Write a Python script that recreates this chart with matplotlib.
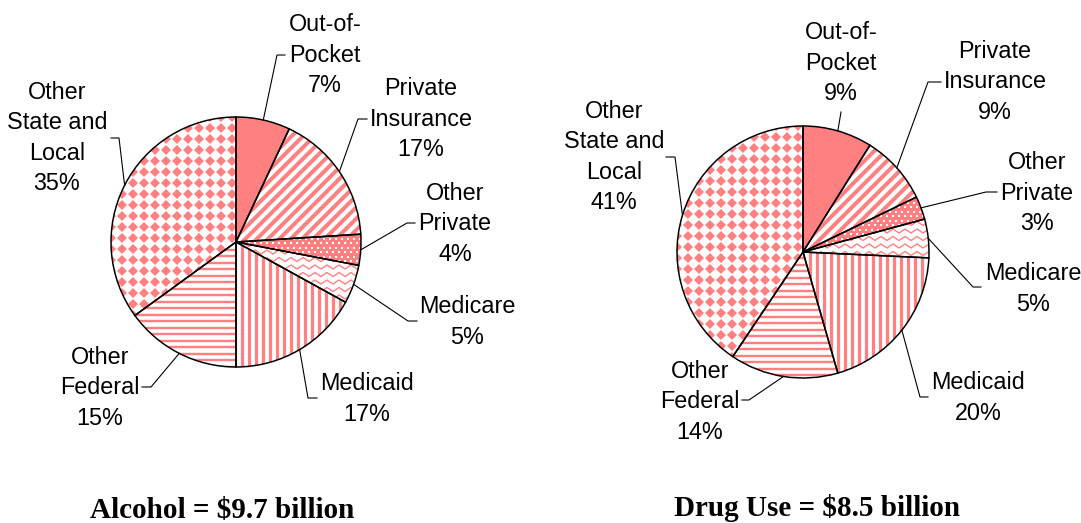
import numpy as np
import matplotlib
matplotlib.use("Agg")
import matplotlib.pyplot as plt
from matplotlib.patches import Wedge
from matplotlib.collections import LineCollection

plt.rcParams.update({
    "font.family": ["Liberation Sans", "DejaVu Sans"],
    "font.size": 16.8,
})

# ── data ─────────────────────────────────────────────────────────────
SOURCES = ["Out-of-Pocket", "Private Insurance", "Other Private", "Medicare",
           "Medicaid", "Other Federal", "Other State and Local"]
SOURCE_LABELS = ["Out-of-\nPocket", "Private\nInsurance", "Other\nPrivate",
                 "Medicare", "Medicaid", "Other\nFederal", "Other\nState and\nLocal"]
ALCOHOL_PCT = [7, 17, 4, 5, 17, 15, 35]
DRUG_PCT = [9, 9, 3, 5, 20, 14, 41]
ALCOHOL_TITLE = "Alcohol = $9.7 billion"
DRUG_TITLE = "Drug Use = $8.5 billion"

SALMON = "#FF8080"
PX = 0.72  # points per pixel at 100 dpi


def stripes(ax, wedge, cx, cy, r, angle, period, width):
    a = np.deg2rad(angle)
    u = np.array([np.cos(a), np.sin(a)])
    n = np.array([-np.sin(a), np.cos(a)])
    L = 1.5 * r
    segs = []
    for k in np.arange(-1.5 * r, 1.5 * r, period):
        p = np.array([cx, cy]) + k * n
        segs.append([p - L * u, p + L * u])
    lc = LineCollection(segs, colors=SALMON, linewidths=width * PX, zorder=2)
    ax.add_collection(lc)
    lc.set_clip_path(wedge)


def zigzag(ax, wedge, cx, cy, r):
    xs = np.arange(cx - r - 12, cx + r + 12, 6.0)
    segs = []
    for y0 in np.arange(cy - r, cy + r, 7.5):
        ys = y0 + np.where(np.arange(len(xs)) % 2 == 0, -2.0, 2.0)
        segs.append(np.column_stack([xs, ys]))
    lc = LineCollection(segs, colors=SALMON, linewidths=1.4 * PX, zorder=2)
    ax.add_collection(lc)
    lc.set_clip_path(wedge)


def dotted(ax, wedge, cx, cy, r):
    # salmon ground with staggered small white dashes
    ax.add_patch(Wedge((cx, cy), r, wedge.theta1, wedge.theta2,
                       facecolor=SALMON, edgecolor="none", zorder=1.5))
    pts = []
    for i, y0 in enumerate(np.arange(cy - r, cy + r, 4.5)):
        off = 3.0 if i % 2 else 0.0
        for x0 in np.arange(cx - r + off, cx + r, 6.0):
            pts.append((x0, y0))
    pts = np.array(pts)
    ln, = ax.plot(pts[:, 0], pts[:, 1], ls="none", marker="s",
                  ms=2.2 * PX, mew=0, color="white", zorder=2)
    ln.set_clip_path(wedge)


def diamonds(ax, wedge, cx, cy, r):
    g = np.arange(-r - 11, r + 11, 11.0)
    gx, gy = np.meshgrid(cx + g, cy + g)
    ln, = ax.plot(gx.ravel(), gy.ravel(), ls="none", marker="D",
                  ms=7.4 * PX, mew=0, color=SALMON, zorder=2)
    ln.set_clip_path(wedge)


def draw_pie(ax, values, center, radius, layout, title, title_xy):
    cx, cy = center
    wedges, _ = ax.pie(values, center=center, radius=radius, startangle=-90,
                       counterclock=True, colors=["white"] * len(values),
                       wedgeprops=dict(edgecolor="none", linewidth=0))
    # fills
    wedges[0].set_facecolor(SALMON)
    stripes(ax, wedges[1], cx, cy, radius, -45, 8.0, 4.0)
    dotted(ax, wedges[2], cx, cy, radius)
    zigzag(ax, wedges[3], cx, cy, radius)
    stripes(ax, wedges[4], cx, cy, radius, 90, 7.0, 3.2)
    stripes(ax, wedges[5], cx, cy, radius, 0, 6.5, 2.4)
    diamonds(ax, wedges[6], cx, cy, radius)
    # outlines on top
    outline, _ = ax.pie(values, center=center, radius=radius, startangle=-90,
                        counterclock=True,
                        wedgeprops=dict(facecolor="none", edgecolor="black",
                                        linewidth=1.5 * PX))
    for w in outline:
        w.set_zorder(3)

    for w, lab, v, (txy, elbow, end) in zip(wedges, SOURCE_LABELS, values, layout):
        mid = np.deg2rad((w.theta1 + w.theta2) / 2)
        start = (cx + radius * np.cos(mid), cy + radius * np.sin(mid))
        ax.plot([start[0], elbow[0], end[0]], [start[1], elbow[1], end[1]],
                color="black", lw=0.8, zorder=4)
        ax.text(txy[0], txy[1], f"{lab}\n{v}%", ha="center", va="center",
                linespacing=1.41, zorder=5)

    ax.text(title_xy[0], title_xy[1], title, ha="center", va="center",
            family=["Liberation Serif", "DejaVu Serif"], fontweight="bold",
            fontsize=21)


fig = plt.figure(figsize=(10.81, 5.23), dpi=100)
ax = fig.add_axes([0, 0, 1, 1])

# label block centre, leader elbow, leader end  (pixel layout, y downwards)
alcohol_layout = [
    ((325, 55), (277, 55), (285, 55)),
    ((421, 119), (358, 119), (367, 119)),
    ((455, 224), (407, 223), (415, 223)),
    ((467, 322), (408, 321), (417, 321)),
    ((367, 399), (308, 398), (317, 398)),
    ((100, 388), (151, 387), (142, 387)),
    ((57, 138), (119, 138), (111, 138)),
]
drug_layout = [
    ((841, 63), (841, 112), (841, 112)),
    ((995, 82), (928, 82), (941, 82)),
    ((1037, 193), (986, 192), (997, 192)),
    ((1033, 289), (973, 287), (981, 287)),
    ((978, 398), (920, 397), (928, 397)),
    ((700, 402), (749, 400), (742, 400)),
    ((614, 157), (675, 157), (666, 157)),
]

draw_pie(ax, ALCOHOL_PCT, (236, 242), 125, alcohol_layout, ALCOHOL_TITLE, (222, 510))
draw_pie(ax, DRUG_PCT, (803, 252), 126, drug_layout, DRUG_TITLE, (817, 508))

ax.set_xlim(0, 1081)
ax.set_ylim(523, 0)
ax.set_axis_off()

fig.savefig("out.png", dpi=100)
